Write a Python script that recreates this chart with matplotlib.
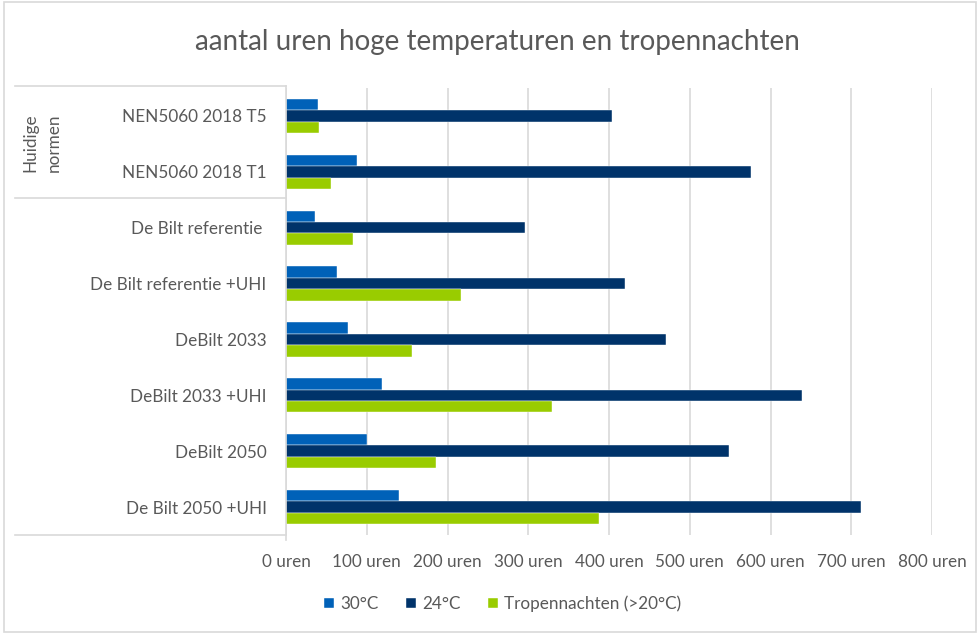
import matplotlib
matplotlib.use("Agg")
import matplotlib.pyplot as plt
from matplotlib.lines import Line2D
from matplotlib.patches import Rectangle
import numpy as np

plt.rcParams['font.family'] = ['Lato', 'DejaVu Sans']

categories = ["NEN5060 2018 T5", "NEN5060 2018 T1", "De Bilt referentie ",
              "De Bilt referentie +UHI", "DeBilt 2033", "DeBilt 2033 +UHI",
              "DeBilt 2050", "De Bilt 2050 +UHI"]
series_names = ["30°C", "24°C", "Tropennachten (>20°C)"]
hours_30 = [40, 88, 36, 63, 77, 119, 100, 140]
hours_24 = [404, 576, 296, 420, 471, 639, 548, 712]
tropennachten = [41, 56, 83, 217, 156, 330, 186, 388]
tick_values = [0, 100, 200, 300, 400, 500, 600, 700, 800]
tick_labels = [f"{v} uren" for v in tick_values]
group_label = "Huidige\nnormen"
title = "aantal uren hoge temperaturen en tropennachten"

colors = ["#0061B8", "#00336A", "#99CC00"]
text_gray = "#595959"
line_gray = "#D9D9D9"
fs = 12.3

W, H = 978, 634
fig = plt.figure(figsize=(W / 100, H / 100), dpi=100)
ax = fig.add_axes([286 / W, 1 - 535 / H, (932 - 286) / W, (535 - 88) / H])

y = np.arange(len(categories))
bh = 0.205
series = [hours_30, hours_24, tropennachten]
for i, (vals, c, name) in enumerate(zip(series, colors, series_names)):
    ax.barh(y + (i - 1) * bh, vals, height=bh, color=c, label=name, zorder=3,
            edgecolor="#ffffff", linewidth=0.3)

ax.set_ylim(len(categories) - 0.5, -0.5)
ax.set_xlim(0, 800)
ax.set_xticks(tick_values)
ax.set_xticklabels(tick_labels, color=text_gray, fontsize=fs)
ax.tick_params(axis='x', length=0, pad=14)
ax.set_yticks(y)
ax.set_yticklabels(categories, color=text_gray, fontsize=fs)
ax.tick_params(axis='y', length=0, pad=14)
ax.grid(axis='x', color=line_gray, linewidth=1.2, zorder=0)
ax.set_axisbelow(True)
for s in ax.spines.values():
    s.set_visible(False)

def fx(px):
    return px / W

def fy(py):
    return 1 - py / H

fig.add_artist(Line2D([fx(286), fx(286)], [fy(86), fy(540)], color=line_gray, lw=1.2))
for py in (86, 198, 535):
    fig.add_artist(Line2D([fx(15), fx(286)], [fy(py), fy(py)], color=line_gray, lw=1.2))

fig.text(fx(42), fy(143), group_label, rotation=90, ha='center', va='center',
         color=text_gray, fontsize=fs, linespacing=1.5)

fig.add_artist(Rectangle((fx(4), fy(632)), fx(972), fy(2) - fy(632), fill=False,
                         edgecolor=line_gray, lw=1.2))

fig.text(fx(497), fy(42), title, ha='center', va='center', color=text_gray, fontsize=20)

leg = fig.legend(loc='center', bbox_to_anchor=(fx(503), fy(604)), ncol=3, frameon=False,
                 fontsize=fs, handlelength=0.55, handleheight=0.55, handletextpad=0.4,
                 columnspacing=1.6)
for t in leg.get_texts():
    t.set_color(text_gray)

fig.savefig("out.png", dpi=100)
